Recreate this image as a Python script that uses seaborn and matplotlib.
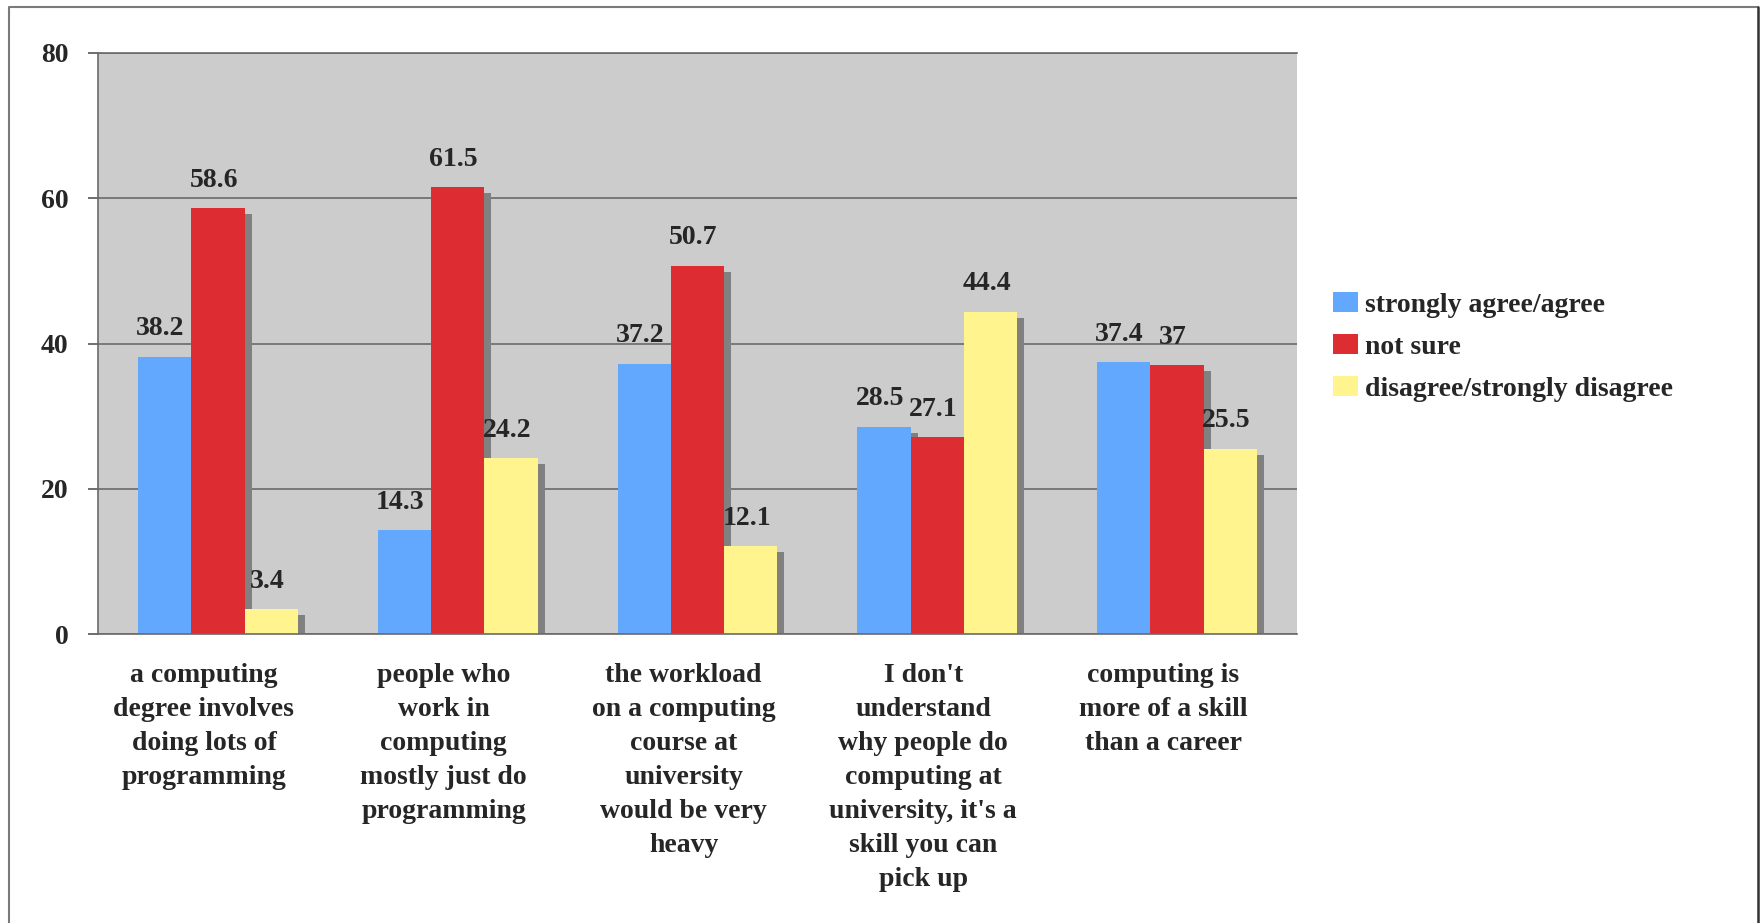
import matplotlib
matplotlib.use("Agg")
import matplotlib.pyplot as plt
import matplotlib.patheffects as pe
from matplotlib.lines import Line2D
from matplotlib.transforms import ScaledTranslation
import pandas as pd
import seaborn as sns

# Survey statements (x categories)
categories = [
    "a computing\ndegree involves\ndoing lots of\nprogramming",
    "people who\nwork in\ncomputing\nmostly just do\nprogramming",
    "the workload\non a computing\ncourse at\nuniversity\nwould be very\nheavy",
    "I don't\nunderstand\nwhy people do\ncomputing at\nuniversity, it's a\nskill you can\npick up",
    "computing is\nmore of a skill\nthan a career",
]
responses = ["strongly agree/agree", "not sure", "disagree/strongly disagree"]

# Percentages per response
agree = [38.2, 14.3, 37.2, 28.5, 37.4]
not_sure = [58.6, 61.5, 50.7, 27.1, 37.0]
disagree = [3.4, 24.2, 12.1, 44.4, 25.5]

y_ticks = [0, 20, 40, 60, 80]
colors = ["#62A8FF", "#DE2C33", "#FFF48E"]

rows = []
for resp, vals in zip(responses, [agree, not_sure, disagree]):
    for cat, v in zip(categories, vals):
        rows.append({"statement": cat, "response": resp, "percent": v})
df = pd.DataFrame(rows)

sns.set_style("white")
plt.rcParams["font.family"] = ["Liberation Serif", "DejaVu Serif"]
plt.rcParams["font.weight"] = "bold"
plt.rcParams["font.size"] = 20

W, H = 1761, 923
fig = plt.figure(figsize=(W / 100, H / 100), dpi=100)
ax = fig.add_axes([98 / W, 1 - 634 / H, 1199 / W, 581 / H])
ax.set_facecolor("#CCCCCC")

sns.barplot(
    data=df, x="statement", y="percent", hue="response",
    order=categories, hue_order=responses, palette=colors,
    width=0.667, gap=0, saturation=1, errorbar=None,
    linewidth=0, ax=ax,
)

# Drop shadow behind each bar
shadow = [pe.SimplePatchShadow(offset=(5.0, -4.3), shadow_rgbFace="#808080", alpha=1.0),
          pe.Normal()]
for cont, vals in zip(ax.containers, [agree, not_sure, disagree]):
    for bar, v in zip(cont, vals):
        bar.set_path_effects(shadow)
        ax.annotate(f"{v:g}", xy=(bar.get_x() + bar.get_width() / 2, v),
                    xytext=(-3, 15.5), textcoords="offset points",
                    ha="center", va="baseline", fontsize=20, fontweight="bold")

ax.set_ylim(0, 80)
ax.set_xlim(-0.5, len(categories) - 0.5)
ax.set_yticks(y_ticks)
ax.set_yticklabels([str(t) for t in y_ticks], fontsize=20, fontweight="bold")
ax.set_xticks(range(len(categories)))
ax.set_xticklabels(categories, fontsize=20, fontweight="bold", linespacing=1.47)
ax.set_xticks([i - 0.5 for i in range(len(categories) + 1)], minor=True)
ax.tick_params(axis="x", which="major", length=0, pad=21)
ax.tick_params(axis="x", which="minor", length=6.5, width=1.2, color="#555555", direction="out")
ax.tick_params(axis="y", which="major", length=7.2, width=1.2, color="#555555",
               direction="out", pad=14, left=True)
for lbl in ax.get_xticklabels():
    lbl.set_transform(lbl.get_transform() + ScaledTranslation(-0.14, 0, fig.dpi_scale_trans))

ax.set_xlabel("")
ax.set_ylabel("")
ax.yaxis.grid(True, color="#6A6A6A", linewidth=1.2)
ax.xaxis.grid(False)
ax.set_axisbelow(True)
for side in ["left", "bottom", "top"]:
    ax.spines[side].set_visible(True)
    ax.spines[side].set_color("#6A6A6A")
    ax.spines[side].set_linewidth(1.2)
ax.spines["right"].set_visible(False)

sns.move_legend(
    ax, "center left", bbox_to_anchor=(1.030, 0.494), title=None, frameon=False,
    fontsize=20, handlelength=0.9, handleheight=0.72, handletextpad=0.25,
    labelspacing=0.58, borderaxespad=0, borderpad=0,
)

# Outer chart frame (open at the bottom)
x0, x1, y_top = 9 / W, 1758 / W, 1 - 7 / H
fig.add_artist(Line2D([x0, x0, x1], [0, y_top, y_top], transform=fig.transFigure,
                      color="#7A7A7A", linewidth=1.5))
fig.add_artist(Line2D([x1, x1], [0, y_top], transform=fig.transFigure,
                      color="#333333", linewidth=1.8))

fig.savefig("out.png", dpi=100)
